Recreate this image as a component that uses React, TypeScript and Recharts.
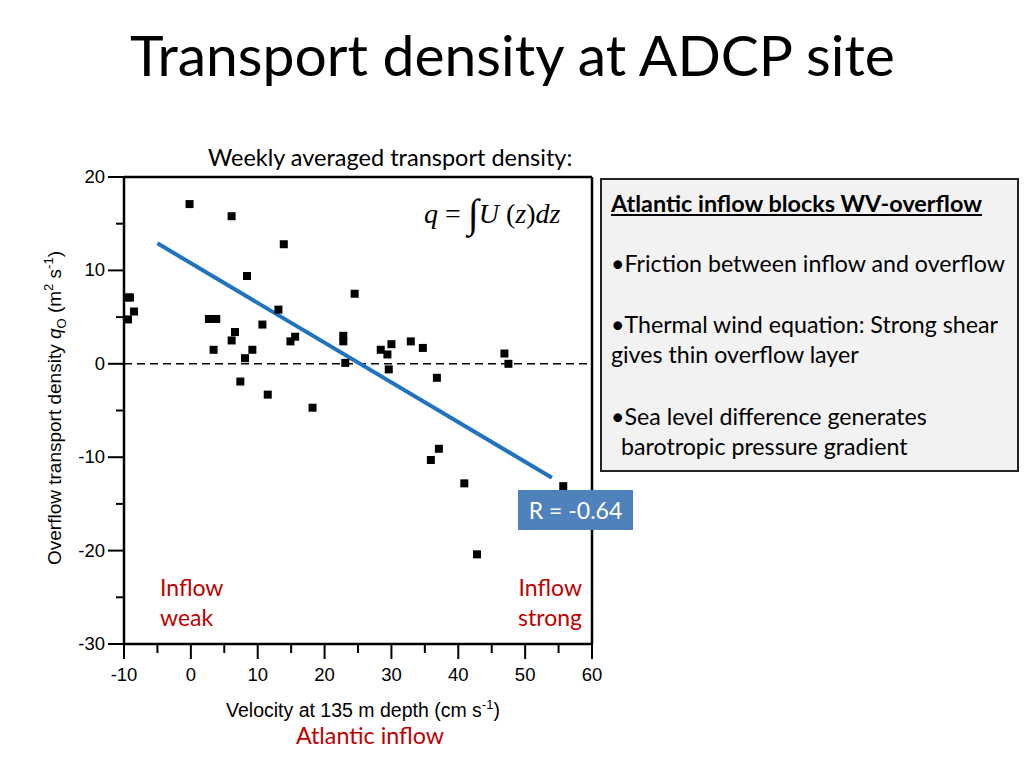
import React from "react";
import { ScatterChart, Scatter, XAxis, YAxis, ReferenceLine } from "recharts";

// weekly averaged values
const velocity = [
  -9.4, -9.1, -8.5, -9.4, -0.2, 2.7, 3.8, 3.4, 6.1, 6.6, 6.1, 7.4, 8.1, 8.4,
  9.2, 10.7, 11.5, 13.1, 13.9, 14.9, 15.6, 18.2, 22.8, 22.8, 23.1, 24.5, 28.4,
  29.4, 30.0, 29.6, 32.9, 34.7, 36.8, 37.1, 35.9, 40.9, 42.8, 46.9, 47.5, 55.7,
];
const transport = [
  7.1, 7.1, 5.6, 4.75, 17.1, 4.8, 4.8, 1.5, 15.8, 3.4, 2.5, -1.9, 0.6, 9.4,
  1.5, 4.2, -3.3, 5.8, 12.8, 2.4, 2.9, -4.7, 3.0, 2.4, 0.1, 7.5, 1.5, 1.0, 2.1,
  -0.6, 2.4, 1.7, -1.5, -9.1, -10.3, -12.8, -20.4, 1.1, 0.0, -13.1,
];
const fitX = [-5, 54];
const fitY = [12.9, -12.2];
const xTicks = [-10, -5, 0, 5, 10, 15, 20, 25, 30, 35, 40, 45, 50, 55, 60];
const yTicks = [-30, -25, -20, -15, -10, -5, 0, 5, 10, 15, 20];

const points = velocity.map((v, i) => ({ x: v, y: transport[i] }));
const fit = fitX.map((v, i) => ({ x: v, y: fitY[i] }));

const ARIAL = "'Liberation Sans', Arial, sans-serif";
const BODY = "Lato, 'Open Sans', sans-serif";
const RED = "#c00000";

const Square = (props: any) => {
  const { cx, cy } = props;
  return <rect x={cx - 4} y={cy - 4} width={8} height={8} fill="#000" />;
};

const XTick = (props: any) => {
  const { x, y, payload } = props;
  const major = payload.value % 10 === 0;
  return (
    <g>
      <line x1={x} x2={x} y1={y} y2={y + (major ? 15 : 9)} stroke="#000" strokeWidth={2} />
      {major && (
        <text x={x} y={y + 37} textAnchor="middle" fontFamily={ARIAL} fontSize={18.5} fill="#000">
          {payload.value}
        </text>
      )}
    </g>
  );
};

const YTick = (props: any) => {
  const { x, y, payload } = props;
  const major = payload.value % 10 === 0;
  return (
    <g>
      <line x1={x - (major ? 16 : 8)} x2={x} y1={y} y2={y} stroke="#000" strokeWidth={2} />
      {major && (
        <text x={x - 19} y={y + 6} textAnchor="end" fontFamily={ARIAL} fontSize={18.5} fill="#000">
          {payload.value}
        </text>
      )}
    </g>
  );
};

const abs = (left: number, top: number, extra: React.CSSProperties = {}): React.CSSProperties => ({
  position: "absolute",
  left,
  top,
  whiteSpace: "nowrap",
  lineHeight: 1.2,
  ...extra,
});

export default function App() {
  return (
    <div style={{ position: "absolute", left: 0, top: 0, width: 1024, height: 768, background: "#fff", overflow: "hidden" }}>
      <ScatterChart width={1024} height={768} margin={{ top: 177, right: 432, bottom: 84, left: 44 }}>
        <XAxis
          type="number"
          dataKey="x"
          domain={[-10, 60]}
          ticks={xTicks}
          tickSize={0}
          tickMargin={0}
          tick={<XTick />}
          height={40}
          axisLine={{ stroke: "#000", strokeWidth: 2.5 }}
          allowDataOverflow
        />
        <YAxis
          type="number"
          dataKey="y"
          domain={[-30, 20]}
          ticks={yTicks}
          tickSize={0}
          tickMargin={0}
          tick={<YTick />}
          width={80}
          axisLine={{ stroke: "#000", strokeWidth: 2.5 }}
          allowDataOverflow
        />
        <ReferenceLine y={20} stroke="#000" strokeWidth={2.5} />
        <ReferenceLine x={60} stroke="#000" strokeWidth={2.5} />
        <ReferenceLine y={0} stroke="#000" strokeWidth={1.5} strokeDasharray="8 5" />
        <Scatter data={fit} line={{ stroke: "#1f73bf", strokeWidth: 4 }} shape={() => null} isAnimationActive={false} />
        <Scatter data={points} shape={<Square />} isAnimationActive={false} />
      </ScatterChart>

      <div style={abs(130, 20, { fontFamily: BODY, fontSize: 57, color: "#000" })}>
        Transport density at ADCP site
      </div>
      <div style={abs(208, 143, { fontFamily: BODY, fontSize: 23.5, color: "#000" })}>
        Weekly averaged transport density:
      </div>
      <div style={abs(424, 190, { fontFamily: "'Liberation Serif', 'Times New Roman', serif", fontSize: 28, color: "#000" })}>
        <i>q</i> = <span style={{ fontSize: 40, verticalAlign: "-4px" }}>∫</span><i>U</i> (<i>z</i>)<i>dz</i>
      </div>

      <div
        style={{
          position: "absolute",
          left: 600,
          top: 178,
          width: 415,
          height: 290,
          background: "#f2f2f2",
          border: "2.5px solid #222",
          fontFamily: BODY,
          fontSize: 23.2,
          color: "#000",
        }}
      >
        <div style={abs(9, 9, { fontWeight: 700, textDecoration: "underline", fontSize: 23.4 })}>
          Atlantic inflow blocks WV-overflow
        </div>
        <div style={abs(9, 70)}>•Friction between inflow and overflow</div>
        <div style={abs(9, 131)}>•Thermal wind equation: Strong shear</div>
        <div style={abs(9, 161)}>gives thin overflow layer</div>
        <div style={abs(9, 223)}>•Sea level difference generates</div>
        <div style={abs(19, 253)}>barotropic pressure gradient</div>
      </div>

      <div
        style={{
          position: "absolute",
          left: 518,
          top: 490,
          width: 115,
          height: 40,
          background: "#4f81bd",
          color: "#fff",
          fontFamily: BODY,
          fontSize: 23,
          display: "flex",
          alignItems: "center",
          justifyContent: "center",
        }}
      >
        R = -0.64
      </div>

      <div style={abs(160, 572, { fontFamily: BODY, fontSize: 23, color: RED, lineHeight: "30px" })}>
        Inflow
        <br />
        weak
      </div>
      <div style={abs(482, 572, { fontFamily: BODY, fontSize: 23, color: RED, width: 100, textAlign: "right", lineHeight: "30px" })}>
        Inflow
        <br />
        strong
      </div>

      <div
        style={{
          position: "absolute",
          left: 55,
          top: 408,
          transform: "translate(-50%, -50%) rotate(-90deg)",
          whiteSpace: "nowrap",
          fontFamily: ARIAL,
          fontSize: 19,
        }}
      >
        Overflow transport density <i>q</i>
        <sub style={{ fontSize: 13 }}>O</sub> (m<sup style={{ fontSize: 13 }}>2</sup> s<sup style={{ fontSize: 13 }}>-1</sup>)
      </div>
      <div style={{ position: "absolute", left: 363, top: 697, transform: "translateX(-50%)", whiteSpace: "nowrap", fontFamily: ARIAL, fontSize: 19.5 }}>
        Velocity at 135 m depth (cm s<sup style={{ fontSize: 13 }}>-1</sup>)
      </div>
      <div style={{ position: "absolute", left: 370, top: 721, transform: "translateX(-50%)", whiteSpace: "nowrap", fontFamily: BODY, fontSize: 23.3, color: RED }}>
        Atlantic inflow
      </div>
    </div>
  );
}
